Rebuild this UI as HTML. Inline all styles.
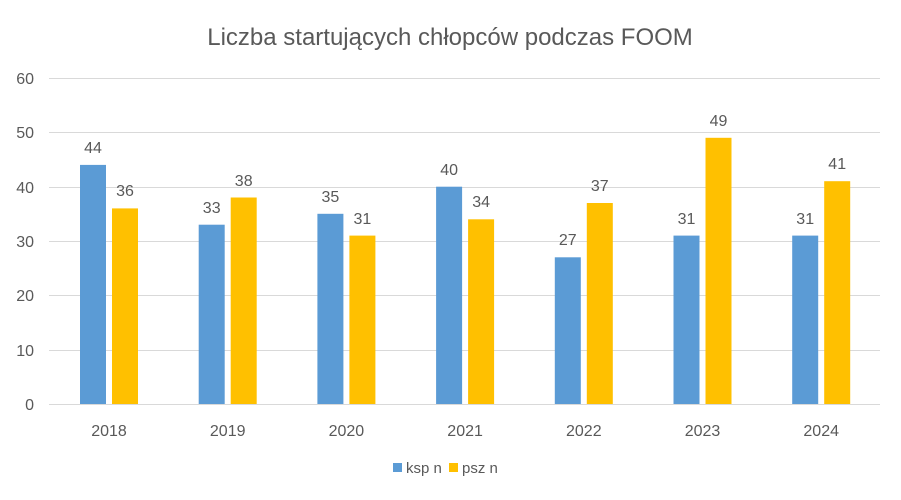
<!DOCTYPE html>
<html><head><meta charset="utf-8"><style>body{margin:0;background:#fff}svg{display:block}text{font-family:"Liberation Sans",sans-serif;fill:#595959}</style></head><body>
<svg width="901" height="500" viewBox="0 0 901 500">
<rect width="901" height="500" fill="#fff"/>
<text x="450" y="45" font-size="24" text-anchor="middle">Liczba startujących chłopców podczas FOOM</text>
<g stroke="#d9d9d9" stroke-width="1">
<line x1="49" x2="880" y1="78.5" y2="78.5"/><line x1="49" x2="880" y1="132.5" y2="132.5"/><line x1="49" x2="880" y1="187.5" y2="187.5"/><line x1="49" x2="880" y1="241.5" y2="241.5"/><line x1="49" x2="880" y1="295.5" y2="295.5"/><line x1="49" x2="880" y1="350.5" y2="350.5"/><line x1="49" x2="880" y1="404.5" y2="404.5"/>
</g>
<g font-size="16" text-anchor="end">
<text x="34" y="84">60</text><text x="34" y="138">50</text><text x="34" y="193">40</text><text x="34" y="247">30</text><text x="34" y="301">20</text><text x="34" y="356">10</text><text x="34" y="410">0</text>
</g>
<g fill="#5b9bd5">
<rect x="80" y="164.9" width="26" height="239.1"/>
<rect x="198.7" y="224.7" width="26" height="179.3"/>
<rect x="317.4" y="213.8" width="26" height="190.2"/>
<rect x="436.1" y="186.7" width="26" height="217.3"/>
<rect x="554.8" y="257.3" width="26" height="146.7"/>
<rect x="673.5" y="235.6" width="26" height="168.4"/>
<rect x="792.2" y="235.6" width="26" height="168.4"/>
</g>
<g fill="#ffc000">
<rect x="112" y="208.4" width="26" height="195.6"/>
<rect x="230.7" y="197.5" width="26" height="206.5"/>
<rect x="349.4" y="235.6" width="26" height="168.4"/>
<rect x="468.1" y="219.3" width="26" height="184.7"/>
<rect x="586.8" y="203" width="26" height="201"/>
<rect x="705.5" y="137.8" width="26" height="266.2"/>
<rect x="824.2" y="181.2" width="26" height="222.8"/>
</g>
<g font-size="16" text-anchor="middle">
<text x="93" y="153">44</text><text x="125" y="196">36</text>
<text x="211.7" y="213">33</text><text x="243.7" y="186">38</text>
<text x="330.4" y="202">35</text><text x="362.4" y="224">31</text>
<text x="449.1" y="175">40</text><text x="481.1" y="207">34</text>
<text x="567.8" y="245">27</text><text x="599.8" y="191">37</text>
<text x="686.5" y="224">31</text><text x="718.5" y="126">49</text>
<text x="805.2" y="224">31</text><text x="837.2" y="169">41</text>
<text x="109" y="436">2018</text><text x="227.7" y="436">2019</text><text x="346.4" y="436">2020</text><text x="465.1" y="436">2021</text><text x="583.8" y="436">2022</text><text x="702.5" y="436">2023</text><text x="821.2" y="436">2024</text>
</g>
<rect x="393" y="463" width="9" height="9" fill="#5b9bd5"/><text x="406" y="473" font-size="15">ksp n</text>
<rect x="449" y="463" width="9" height="9" fill="#ffc000"/><text x="462" y="473" font-size="15">psz n</text>
</svg>
</body></html>
